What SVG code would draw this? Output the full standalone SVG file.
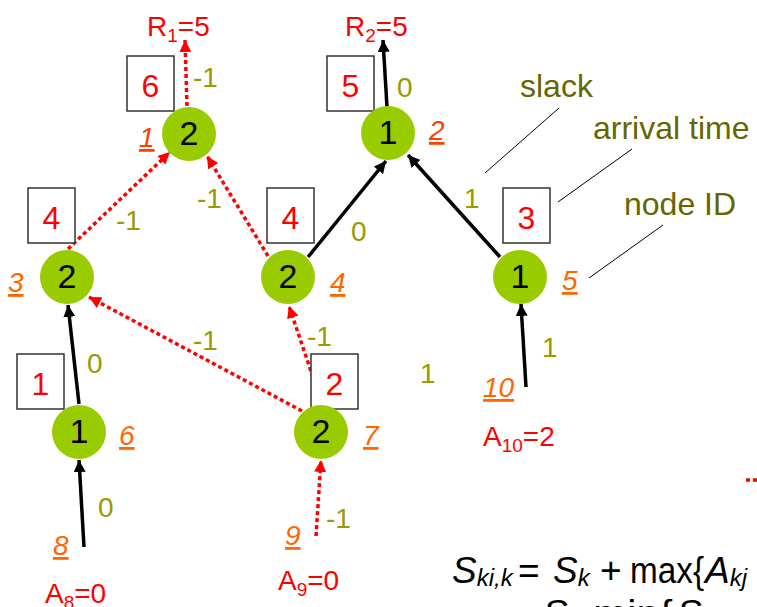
<svg xmlns="http://www.w3.org/2000/svg" width="757" height="607" viewBox="0 0 757 607">
<style>
text{font-family:"Liberation Sans",Arial,sans-serif}
.nc{fill:#99CC00}
.nl{font-size:34px;fill:#000;text-anchor:middle}
.bx{fill:#fff;stroke:#333;stroke-width:1.5}
.bt{font-size:32px;fill:#FF0000;text-anchor:middle}
.id{font-size:28px;fill:#FF6600;font-style:italic;text-decoration:underline}
.el{font-size:28px;fill:#999900}
.an{font-size:32px;fill:#666600}
.rl{font-size:28px;fill:#FF0000}
.fm{font-size:37px;fill:#000}
.it{font-style:italic}
.red{stroke:#FF0000;stroke-width:3.5;stroke-dasharray:4 3;fill:none}
.blk{stroke:#000;stroke-width:3.5;fill:none}
.ld{stroke:#000;stroke-width:1;fill:none}
</style>
<defs>
<marker id="ar" markerUnits="userSpaceOnUse" markerWidth="13" markerHeight="12" refX="12" refY="6" orient="auto"><path d="M0,0 L12,6 L0,12 z" fill="#FF0000"/></marker>
<marker id="ab" markerUnits="userSpaceOnUse" markerWidth="13" markerHeight="12" refX="12" refY="6" orient="auto"><path d="M0,0 L12,6 L0,12 z" fill="#000"/></marker>
</defs>
<g id="connectors">
<line class="red" x1="187" y1="106" x2="185" y2="40" marker-end="url(#ar)"/>
<line class="blk" x1="387" y1="107" x2="383" y2="40" marker-end="url(#ab)"/>
<line class="red" x1="68" y1="249" x2="170" y2="152" marker-end="url(#ar)"/>
<line class="red" x1="268" y1="256" x2="207" y2="156" marker-end="url(#ar)"/>
<line class="blk" x1="308" y1="257" x2="386" y2="161" marker-end="url(#ab)"/>
<line class="blk" x1="500" y1="257" x2="408" y2="155" marker-end="url(#ab)"/>
<line class="blk" x1="79" y1="404" x2="68" y2="305" marker-end="url(#ab)"/>
<line class="red" x1="302" y1="411" x2="89" y2="297" marker-end="url(#ar)"/>
<line class="red" x1="322" y1="404" x2="289" y2="306" marker-end="url(#ar)"/>
<line class="blk" x1="84" y1="547" x2="79" y2="460" marker-end="url(#ab)"/>
<line class="red" x1="316" y1="536" x2="321" y2="460" marker-end="url(#ar)"/>
<line class="blk" x1="526" y1="387" x2="521" y2="304" marker-end="url(#ab)"/>
<line class="red" x1="746" y1="480" x2="762" y2="480"/>
<line class="ld" x1="559" y1="108" x2="485" y2="173"/>
<line class="ld" x1="632" y1="149" x2="558" y2="202"/>
<line class="ld" x1="663" y1="225" x2="589" y2="278"/>
</g>
<g id="edge-labels">
<text class="el" x="193" y="87">-1</text>
<text class="el" x="397" y="97">0</text>
<text class="el" x="116" y="230">-1</text>
<text class="el" x="197" y="208">-1</text>
<text class="el" x="351" y="241">0</text>
<text class="el" x="464" y="208">1</text>
<text class="el" x="87" y="373">0</text>
<text class="el" x="193" y="350">-1</text>
<text class="el" x="307" y="346">-1</text>
<text class="el" x="420" y="383">1</text>
<text class="el" x="542" y="357">1</text>
<text class="el" x="98" y="517">0</text>
<text class="el" x="326" y="528">-1</text>
</g>
<g id="n1">
<rect class="bx" x="127" y="56" width="47" height="55"/><text class="bt" x="150.5" y="97">6</text>
<circle class="nc" cx="189" cy="134" r="27"/><text class="nl" x="189" y="145">2</text>
<text class="id" x="139" y="147" style="fill:#FF4000">1</text>
</g>
<g id="n2">
<rect class="bx" x="327" y="56" width="47" height="55"/><text class="bt" x="350.5" y="97">5</text>
<circle class="nc" cx="388" cy="133" r="27"/><text class="nl" x="388" y="144">1</text>
<text class="id" x="429" y="140" style="fill:#FF4000">2</text>
</g>
<g id="n3">
<rect class="bx" x="28" y="188" width="47" height="55"/><text class="bt" x="51.5" y="229">4</text>
<circle class="nc" cx="67" cy="277" r="27"/><text class="nl" x="67" y="288">2</text>
<text class="id" x="8" y="292">3</text>
</g>
<g id="n4">
<rect class="bx" x="267" y="188" width="47" height="55"/><text class="bt" x="290.5" y="229">4</text>
<circle class="nc" cx="288" cy="277" r="27"/><text class="nl" x="288" y="288">2</text>
<text class="id" x="330" y="292">4</text>
</g>
<g id="n5">
<rect class="bx" x="503" y="188" width="47" height="55"/><text class="bt" x="526.5" y="229">3</text>
<circle class="nc" cx="520" cy="277" r="27"/><text class="nl" x="520" y="288">1</text>
<text class="id" x="562" y="290">5</text>
</g>
<g id="n6">
<rect class="bx" x="17" y="354" width="47" height="55"/><text class="bt" x="40.5" y="395">1</text>
<circle class="nc" cx="79" cy="432" r="27"/><text class="nl" x="79" y="443">1</text>
<text class="id" x="119" y="445">6</text>
</g>
<g id="n7">
<rect class="bx" x="311" y="354" width="47" height="55"/><text class="bt" x="334.5" y="395">2</text>
<circle class="nc" cx="321" cy="432" r="27"/><text class="nl" x="321" y="443">2</text>
<text class="id" x="363" y="445">7</text>
</g>
<g id="n8">
<text class="id" x="53" y="555">8</text>
<text class="rl" x="45" y="603">A<tspan font-size="19" dy="6">8</tspan><tspan dy="-6">=0</tspan></text>
</g>
<g id="n9">
<text class="id" x="285" y="545">9</text>
<text class="rl" x="278" y="590">A<tspan font-size="19" dy="6">9</tspan><tspan dy="-6">=0</tspan></text>
</g>
<g id="n10">
<text class="id" x="483" y="397">10</text>
<text class="rl" x="483" y="446">A<tspan font-size="19" dy="6">10</tspan><tspan dy="-6">=2</tspan></text>
</g>
<g id="r1"><text class="rl" x="147" y="36">R<tspan font-size="19" dy="6">1</tspan><tspan dy="-6">=5</tspan></text></g>
<g id="r2"><text class="rl" x="345" y="36">R<tspan font-size="19" dy="6">2</tspan><tspan dy="-6">=5</tspan></text></g>
<g id="legend">
<text class="an" x="520" y="97">slack</text>
<text class="an" x="593" y="139">arrival time</text>
<text class="an" x="624" y="215">node ID</text>
</g>
<g id="formula">
<text class="fm it" x="452" y="583">S<tspan font-size="24" dy="3">ki,k</tspan></text>
<text class="fm" x="518" y="583">=</text>
<text class="fm it" x="553" y="583">S<tspan font-size="24" dy="3">k</tspan></text>
<text class="fm" x="600" y="583">+</text>
<text class="fm" x="630" y="583" font-size="35" textLength="74" lengthAdjust="spacingAndGlyphs">max{</text>
<text class="fm it" x="705" y="583">A<tspan font-size="24" dy="3">kj</tspan></text>
<text class="fm it" x="543" y="626">S<tspan font-size="24" dy="3">k</tspan></text>
<text class="fm" x="572" y="628">=</text>
<text class="fm" x="593" y="626" textLength="80" lengthAdjust="spacingAndGlyphs">min{</text>
<text class="fm it" x="677" y="626">S<tspan font-size="24" dy="3">ki,k</tspan></text>
</g>
</svg>
